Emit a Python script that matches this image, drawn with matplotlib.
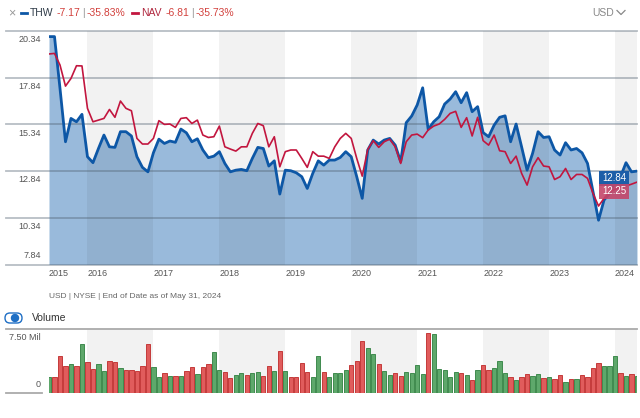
import numpy as np
import pandas as pd
import matplotlib
matplotlib.use('Agg')
import matplotlib.pyplot as plt
from matplotlib import font_manager
from matplotlib.lines import Line2D
from matplotlib.patches import FancyBboxPatch, Circle
from matplotlib.transforms import IdentityTransform

# monthly closes, Jun 2015 .. May 2024
thw = [20.04, 20.04, 17.27, 14.41, 15.66, 15.48, 15.88, 13.61, 13.29, 14.05,
       14.77, 14.14, 14.11, 14.95, 14.95, 14.72, 13.61, 13.04, 12.80, 13.82,
       14.55, 14.32, 14.45, 14.38, 15.09, 14.89, 14.41, 14.57, 13.97, 13.56,
       13.64, 13.88, 13.25, 12.80, 12.89, 12.93, 12.86, 13.52, 14.11, 14.05,
       13.11, 13.39, 11.61, 12.89, 12.86, 12.75, 12.54, 11.91, 12.72, 13.39,
       13.16, 13.43, 13.43, 13.57, 13.88, 13.61, 12.54, 11.38, 13.97, 14.50,
       14.29, 14.50, 14.59, 14.23, 13.34, 15.43, 15.79, 16.38, 17.30, 15.07,
       15.48, 15.75, 16.43, 16.70, 17.09, 16.50, 17.04, 16.02, 16.29, 14.90,
       14.68, 15.30, 15.72, 15.80, 14.41, 15.36, 14.14, 12.89, 13.79, 14.95,
       14.64, 14.68, 13.97, 13.70, 14.36, 13.97, 14.05, 13.82, 13.25, 11.73,
       10.21, 11.29, 11.64, 12.27, 12.54, 13.29, 12.80, 12.84]

nav = [19.11, 19.14, 18.52, 17.39, 17.80, 18.48, 18.47, 16.20, 15.48, 15.57,
       15.66, 16.14, 15.72, 16.59, 16.20, 16.07, 14.59, 14.29, 14.29, 14.59,
       15.54, 15.34, 15.36, 15.18, 15.66, 15.70, 15.39, 15.57, 14.77, 14.64,
       14.68, 15.25, 14.14, 14.02, 13.91, 14.14, 14.14, 14.86, 15.39, 15.27,
       14.14, 14.68, 13.07, 13.88, 13.97, 13.97, 13.52, 13.04, 13.88, 13.64,
       13.64, 13.52, 14.14, 14.59, 14.86, 14.59, 13.52, 12.57, 14.00, 14.47,
       14.11, 14.41, 14.55, 14.14, 13.25, 14.41, 14.77, 14.82, 14.63, 15.04,
       15.25, 15.36, 15.61, 15.93, 16.04, 15.18, 15.70, 14.72, 15.72, 14.47,
       14.23, 14.77, 13.93, 13.88, 13.25, 13.64, 12.72, 12.09, 13.07, 13.56,
       13.11, 13.07, 12.39, 12.54, 12.98, 12.39, 12.66, 12.66, 12.45, 11.64,
       10.97, 11.38, 11.73, 11.86, 11.97, 12.04, 12.14, 12.25]

# volume in millions, G = up month, R = down month
volume = [1.80, 1.80, 4.39, 3.19, 3.39, 3.11, 5.78, 3.63, 2.83, 3.39,
          2.59, 3.79, 3.59, 2.91, 2.71, 2.63, 2.51, 3.19, 5.78, 3.03,
          1.83, 2.31, 1.99, 1.99, 2.03, 2.51, 3.03, 2.23, 3.03, 3.43,
          4.79, 2.71, 2.47, 1.68, 2.11, 2.35, 2.11, 2.35, 2.47, 1.99,
          3.19, 2.55, 4.91, 2.55, 1.83, 1.87, 3.51, 2.39, 1.91, 4.31,
          2.47, 1.83, 2.31, 2.35, 2.63, 3.27, 3.75, 6.06, 5.27, 4.59,
          3.35, 2.51, 2.11, 2.31, 1.95, 2.43, 2.35, 3.27, 2.27, 7.06,
          6.98, 2.79, 2.63, 1.83, 2.43, 2.31, 2.11, 1.48, 2.67, 3.27,
          2.67, 2.95, 3.75, 2.35, 1.87, 1.52, 1.80, 2.27, 1.95, 2.27,
          1.76, 1.87, 1.64, 2.07, 1.32, 1.64, 1.64, 2.11, 1.87, 2.87,
          3.51, 3.15, 3.15, 4.35, 2.31, 2.03, 2.23, 1.95]
direction = ("GRRRGRGRRG" "GRRGRRRRRG" "GRGRGRRGRR" "GGRRGGRGGR" "RGRGRRRRGG"
             "RGGGGRRRGG" "RGGRRGGGGR" "GGGGGRGRGR" "RGGGRGRRGG" "RGRRGRGRRR"
             "RGGGRGRG")

price_ticks = [7.84, 10.34, 12.84, 15.34, 17.84, 20.34]
years = ['2015', '2016', '2017', '2018', '2019', '2020', '2021', '2022', '2023', '2024']

BLUE = '#0d57a6'
RED = '#c2163f'
FILL = '#99badb'
GREEN_BAR, GREEN_EDGE = '#5ea86b', '#3f8a4e'
RED_BAR, RED_EDGE = '#e05c5c', '#c43a3a'

# narrow font if we have one, Liberation Sans otherwise
names = {f.name for f in font_manager.fontManager.ttflist}
FONT = 'Liberation Sans Narrow' if 'Liberation Sans Narrow' in names else 'Liberation Sans'
plt.rcParams['font.family'] = [FONT, 'DejaVu Sans']

months = pd.date_range('2015-06-01', periods=len(thw), freq='MS')
t = np.array(months.year + (months.month - 1) / 12)

W, H = 640, 418
fig = plt.figure(figsize=(W / 100, H / 100), dpi=100)


def fx(x):
    return x / W


def fy(y):
    return 1 - y / H


ax = fig.add_axes([fx(49), fy(264.5), fx(588), 233.5 / H])
vax = fig.add_axes([fx(49), fy(392.7), fx(588), 63.4 / H])
x0, x1 = t[0], t[-1]
bands = [2016, 2018, 2020, 2022, 2024]

# price panel
ax.fill_between(t, thw, price_ticks[0], color=FILL, lw=0, zorder=1)
for b in bands:
    ax.axvspan(b, min(b + 1, x1), color='k', alpha=0.05, lw=0, zorder=2)
for v in price_ticks:
    ax.axhline(v, xmin=-0.073, xmax=1, color='#4d5d6d', alpha=0.4, lw=1.3,
               clip_on=False, zorder=3)
    if v == price_ticks[0]:
        ax.annotate(f'{v:.2f}', xy=(-0.014, v), xycoords=ax.get_yaxis_transform(),
                    xytext=(0, 3), textcoords='offset points', ha='right', va='bottom',
                    fontsize=6.5, color='#555555')
    else:
        ax.annotate(f'{v:.2f}', xy=(-0.014, v), xycoords=ax.get_yaxis_transform(),
                    xytext=(0, -3), textcoords='offset points', ha='right', va='top',
                    fontsize=6.5, color='#555555')
ax.plot(t, thw, color=BLUE, lw=2, zorder=4)
ax.plot(t, nav, color=RED, lw=1.2, zorder=5)
ax.set_xlim(x0, x1)
ax.set_ylim(price_ticks[0], price_ticks[-1])
ax.set_yticks([])
ax.set_xticks([x0] + [int(y) for y in years[1:]])
ax.set_xticklabels(years, ha='left', fontsize=6.5, color='#555555')
ax.tick_params(axis='x', length=0, pad=3)
for s in ax.spines.values():
    s.set_visible(False)

# volume panel
for b in bands:
    vax.axvspan(b, min(b + 1, x1), color='#f2f2f2', lw=0, zorder=1)
cols = [GREEN_BAR if d == 'G' else RED_BAR for d in direction]
edges = [GREEN_EDGE if d == 'G' else RED_EDGE for d in direction]
vax.bar(t, volume, width=0.78 / 12, color=cols, edgecolor=edges, lw=0.7, zorder=3)
vax.axhline(7.5, xmin=-0.073, xmax=1, color='#aaaaaa', lw=1.3, clip_on=False, zorder=2)
vax.axhline(0, xmin=-0.073, xmax=-0.012, color='#aaaaaa', lw=1.3, clip_on=False)
vax.annotate('7.50 Mil', xy=(-0.014, 7.5), xycoords=vax.get_yaxis_transform(),
             xytext=(0, -3), textcoords='offset points', ha='right', va='top',
             fontsize=6.5, color='#555555')
vax.annotate('0', xy=(-0.014, 0), xycoords=vax.get_yaxis_transform(),
             xytext=(0, 3), textcoords='offset points', ha='right', va='bottom',
             fontsize=6.5, color='#555555')
vax.set_xlim(x0, x1)
vax.set_ylim(0, 7.5)
vax.set_xticks([])
vax.set_yticks([])
for s in vax.spines.values():
    s.set_visible(False)

# last-value tags
fig.text(fx(614), fy(178.5), f'{thw[-1]:.2f}', color='white', fontsize=7,
         ha='center', va='center',
         bbox=dict(boxstyle='square,pad=0.3', fc='#1d5ea8', ec='none'))
fig.text(fx(614), fy(191.5), f'{nav[-1]:.2f}', color='white', fontsize=7,
         ha='center', va='center',
         bbox=dict(boxstyle='square,pad=0.3', fc='#c4476a', ec='none', alpha=0.9))

# header legend
renderer = fig.canvas.get_renderer()


def chain(x, s, color, size=7.5, gap=3):
    txt = fig.text(fx(x), fy(13), s, color=color, fontsize=size, ha='left', va='center')
    return txt.get_window_extent(renderer).x1 + gap


fig.text(fx(8), fy(13), '×', color='#999999', fontsize=9, ha='left', va='center')
fig.add_artist(Line2D([fx(21), fx(27)], [fy(12.5), fy(12.5)], color=BLUE, lw=2))
x = chain(30, 'THW', '#2f3b48')
x = chain(x, '-7.17', '#d2403c', gap=2)
x = chain(x, '|', '#999999', gap=2)
x = chain(x, '-35.83%', '#d2403c', gap=6)
fig.add_artist(Line2D([fx(x), fx(x + 6)], [fy(12.5), fy(12.5)], color=RED, lw=2))
x = chain(x + 10, 'NAV', '#b0283f')
x = chain(x, '-6.81', '#d2403c', gap=2)
x = chain(x, '|', '#999999', gap=2)
chain(x, '-35.73%', '#d2403c')

fig.text(fx(592), fy(12.5), 'USD', color='#888888', fontsize=7.5, ha='left', va='center')
fig.add_artist(Line2D([fx(617), fx(621), fx(625)], [fy(10.5), fy(14.5), fy(10.5)],
                      color='#888888', lw=0.9))

fig.text(fx(49), fy(297), 'USD | NYSE | End of Date as of May 31, 2024',
         color='#666666', fontsize=6, ha='left', va='center')

# volume toggle
fig.add_artist(FancyBboxPatch((5, H - 323), 17, 10, boxstyle='round,pad=0,rounding_size=5',
                              transform=IdentityTransform(), fc='white', ec='#1f6fc5', lw=1))
fig.add_artist(Circle((15, H - 318), 3.5, transform=IdentityTransform(), color='#1f6fc5'))
fig.text(fx(32), fy(318), 'Volume', color='#333333', fontsize=7.5, ha='left', va='center')

fig.savefig('out.png', dpi=100)
